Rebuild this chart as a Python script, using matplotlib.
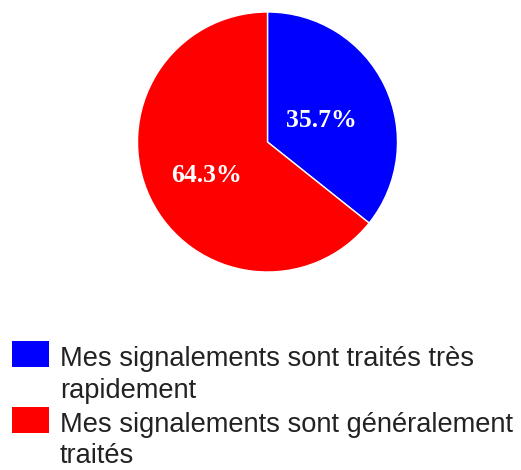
import matplotlib
matplotlib.use("Agg")
import matplotlib.pyplot as plt
import matplotlib.transforms as mtransforms
from matplotlib.patches import Rectangle

# data
labels = ["Mes signalements sont traités très\nrapidement",
          "Mes signalements sont généralement\ntraités"]
counts = [5, 9]
colors = ["#0000ff", "#ff0000"]

W, H = 521, 470
fig = plt.figure(figsize=(W / 100, H / 100), dpi=100)

# pie axes: centre (267.5, 142) px from top, radius 130 px
cx, cy, r = 267.5, 142, 130
ax = fig.add_axes([(cx - r) / W, (H - cy - r) / H, 2 * r / W, 2 * r / H])
wedges, texts, autotexts = ax.pie(counts, colors=colors, startangle=90, counterclock=False,
                                  autopct="%.1f%%", pctdistance=0.5, radius=1,
                                  wedgeprops=dict(edgecolor="white", linewidth=1))
ax.set_xlim(-1, 1)
ax.set_ylim(-1, 1)
ax.set_aspect("equal")

# nudge label radii to match reference
shift = mtransforms.offset_copy(ax.transData, fig=fig, x=1, y=-4, units="dots")
for t, rr in zip(autotexts, [0.45, 0.53]):
    x, y = t.get_position()
    t.set_position((x / 0.5 * rr, y / 0.5 * rr))
    t.set_transform(shift)
    t.set_color("white")
    t.set_fontfamily("Liberation Serif")
    t.set_fontweight("bold")
    t.set_fontsize(18.5)

# legend drawn by hand: square + wrapped label, one text per line
swatch_top = [341, 407]          # px from top
line_base = [[366, 398], [432, 463]]
for c, lab, top, bases in zip(colors, labels, swatch_top, line_base):
    fig.patches.append(Rectangle((12 / W, 1 - (top + 26) / H), 37 / W, 26 / H,
                                 facecolor=c, edgecolor="none",
                                 transform=fig.transFigure, figure=fig))
    for line, b in zip(lab.split("\n"), bases):
        fig.text(60 / W, 1 - b / H, line, ha="left", va="baseline",
                 fontfamily="Liberation Sans", fontsize=19.6, color="#222222")

fig.savefig("out.png", dpi=100)
